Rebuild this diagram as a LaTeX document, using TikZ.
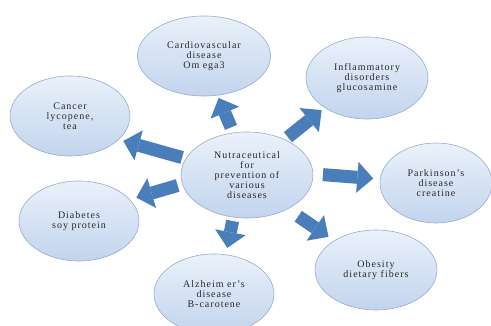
\documentclass[tikz,border=0pt]{standalone}
\usepackage{fontspec}
\setmainfont{Liberation Serif}[LetterSpace=10]
\usetikzlibrary{shapes.geometric,arrows.meta}
\definecolor{arrowblue}{RGB}{74,126,187}
\definecolor{bubtop}{RGB}{234,241,250}
\definecolor{bubbot}{RGB}{194,212,237}
\definecolor{bubline}{RGB}{150,172,205}
\definecolor{txt}{RGB}{40,40,40}
\begin{document}
\begin{tikzpicture}[x=1pt,y=-1pt,
  bub/.style={ellipse, draw=bubline, line width=0.6pt, top color=bubtop, bottom color=bubbot,
    inner sep=0pt, outer sep=0pt, align=center, text=txt, font=\fontsize{10}{10}\selectfont},
  barrow/.style={color=arrowblue, line width=13pt,
    -{Triangle[length=16pt,width=31pt,line width=0pt]}}]
\useasboundingbox (0,0) rectangle (491,326);
\clip (0,0) rectangle (491,326);
\node[bub, minimum width=132pt, minimum height=86pt] (c) at (247,175) {Nutraceutical\\for\\prevention of\\various\\diseases};
\node[bub, minimum width=133pt, minimum height=80pt] (card) at (204,56) {Cardiovascular\\disease\\Om ega3};
\node[bub, minimum width=122pt, minimum height=82pt] (infl) at (367,78) {Inflammatory\\disorders\\glucosamine};
\node[bub, minimum width=120pt, minimum height=80pt] (canc) at (70,116) {Cancer\\lycopene,\\tea};
\node[bub, minimum width=120pt, minimum height=80pt] (diab) at (79,221) {Diabetes\\soy protein};
\node[bub, minimum width=112pt, minimum height=80pt] (park) at (436,183) {Parkinson’s\\disease\\creatine};
\node[bub, minimum width=122pt, minimum height=80pt] (obes) at (376,270) {Obesity\\dietary fibers};
\node[bub, minimum width=120pt, minimum height=80pt] (alz) at (214,294) {Alzheim er’s\\disease\\B-carotene};
\draw[barrow, shorten <=6pt, shorten >=3pt] (c.108) -- (card.-71);
\draw[barrow, shorten <=4pt, shorten >=4pt] (c.43.5) -- (infl.-145);
\draw[barrow, shorten <=4pt, shorten >=5pt] (c.165) -- (canc.-26);
\draw[barrow, shorten <=5pt, shorten >=7pt] (c.188) -- (diab.23);
\draw[barrow, shorten <=4pt, shorten >=7pt] (c.252) -- (alz.73);
\draw[barrow, shorten <=13pt, shorten >=7pt] (c.-40.7) -- (obes.145.5);
\draw[barrow, shorten <=10pt, shorten >=7pt] (c.1.5) -- (park.176);
\end{tikzpicture}
\end{document}
